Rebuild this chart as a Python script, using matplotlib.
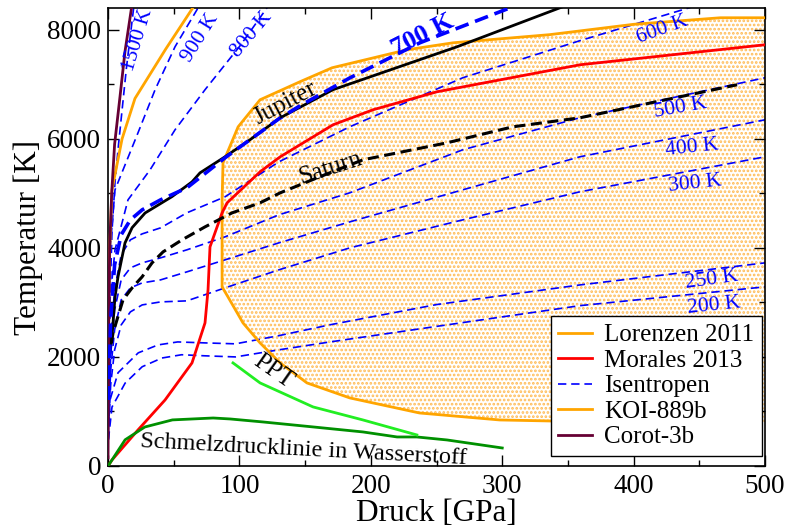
import matplotlib

matplotlib.use("Agg")
import matplotlib.pyplot as plt
from matplotlib.ticker import MultipleLocator

plt.rcParams["font.family"] = ["Liberation Serif", "DejaVu Serif"]
plt.rcParams["lines.scale_dashes"] = False
plt.rcParams["hatch.linewidth"] = 1.3
plt.rcParams["hatch.color"] = "#ffbb55"

# Lorenzen 2011 region (closed outline, P in GPa, T in K)
lor_p = [500, 466, 400, 336, 262.6, 227.5, 170.5, 146, 115.7, 99, 87.5, 86.8, 86.8,
         91.3, 102.7, 115.7, 131, 151.4, 184, 237, 298, 374, 500]
lor_t = [8220, 8220, 8100, 7910, 7761, 7633, 7303, 7046, 6716, 6220, 5560, 4880, 3284,
         3100, 2624, 2257, 1890, 1523, 1248, 972, 844, 807, 789]

# Morales 2013
mor_p = [0, 3, 22.8, 43.4, 63.9, 73.8, 76.1, 77.6, 86.8, 90.6, 115.7, 131, 171.2, 201.7, 250.4, 359.2, 500]
mor_t = [0, 110, 661, 1211, 1890, 2624, 3230, 4019, 4643, 4826, 5395, 5670, 6257, 6533, 6863, 7358, 7725]

# Planet profiles
jup_p = [1.5, 3, 5.3, 7.6, 12.9, 18.3, 28.2, 48.7, 63.9, 70, 89, 108, 131, 171, 265.6, 346, 365]
jup_t = [2100, 2370, 3100, 3470, 4090, 4370, 4640, 4940, 5210, 5376, 5670, 5982, 6385, 6899, 7688, 8422, 8650]
sat_p = [2.5, 3.8, 6.8, 11.4, 18.3, 25.9, 33.5, 41.9, 56.3, 73.8, 94.4, 115.7, 131, 161, 194, 258, 308, 359, 478.7]
sat_t = [2250, 2440, 2680, 3046, 3266, 3468, 3725, 3927, 4147, 4385, 4642, 4826, 5009, 5303, 5615, 5927, 6220, 6385, 6991]

koi_p = [0.3, 1, 3, 10.7, 20.5, 44, 65, 72]
koi_t = [2500, 3800, 5064, 6000, 6740, 7650, 8420, 8650]
corot_p = [0, 0.5, 1.2, 2.8, 5, 9.1, 12.9, 18, 20]
corot_t = [150, 2500, 4000, 5010, 5900, 6771, 7600, 8423, 8700]

# Isentropes
isen_p = [0.3, 2, 5, 10, 17, 26, 40, 60, 89, 130, 184, 270, 359, 500]
isen_200_p = [0.3, 3, 13, 26, 41, 56, 74, 97, 130, 169, 250, 359, 500]
isen_200_t = [480, 1080, 1520, 1820, 1980, 2040, 2020, 2000, 2130, 2275, 2560, 2940, 3285]
isen_250_p = [0.3, 1.5, 7.6, 23, 38, 53, 74, 97, 130, 169, 250, 359, 500]
isen_250_t = [500, 1210, 1710, 2075, 2220, 2275, 2257, 2240, 2390, 2590, 2960, 3320, 3725]
isen_300_t = [661, 1486, 2129, 2587, 2826, 2954, 3009, 3028, 3266, 3597, 4000, 4514, 5028, 5670]
isen_400_t = [752, 1762, 2496, 3046, 3266, 3358, 3413, 3560, 3780, 4092, 4477, 5065, 5670, 6349]
isen_500_t = [844, 2037, 2863, 3413, 3633, 3725, 3817, 3964, 4202, 4606, 5010, 5799, 6386, 7120]
isen_600_p = [0.3, 2, 5, 10, 17, 26, 40, 60, 89, 130, 184, 270, 359, 445, 470]
isen_600_t = [1028, 2312, 3230, 3872, 4147, 4257, 4367, 4643, 4936, 5578, 6221, 7120, 7799, 8423, 8700]
isen_700_p = [0.3, 2, 5, 10, 17, 26, 40, 60, 89, 130, 146.1, 184.2, 237.4, 308.2, 330]
isen_700_t = [1211, 2679, 3688, 4239, 4514, 4698, 4881, 5101, 5652, 6367, 6606, 7120, 7762, 8423, 8700]
isen_800_p = [0.3, 1.5, 5.3, 15.2, 32, 51, 73.8, 100.5, 121, 130]
isen_800_t = [1500, 3046, 3963, 4881, 5432, 6166, 6900, 7707, 8404, 8700]
isen_900_p = [0.3, 1.5, 5.3, 22.8, 35.8, 51, 67.7, 72]
isen_900_t = [1800, 3964, 5065, 6110, 6900, 7689, 8368, 8600]
isen_1500_p = [0.3, 1.5, 3, 5.3, 8, 11, 14, 17.5, 20]
isen_1500_t = [1000, 3000, 4300, 5200, 5900, 6600, 7300, 8000, 8500]

# Melting line and plasma phase transition
melt_p = [0, 3, 13, 28, 49, 80, 93, 118, 156, 194, 220, 235, 258, 300]
melt_t = [0, 110, 480, 715, 845, 880, 862, 807, 716, 624, 532, 532, 477, 330]
ppt_p = [95.1, 115.7, 156, 194, 235]
ppt_t = [1890, 1523, 1083, 844, 569]

ORANGE = "#ffa500"
BLUE = "#0000ff"

fig = plt.figure(figsize=(7.88, 5.30), dpi=100)
ax = fig.add_axes([0.1371, 0.1208, 0.8338, 0.8642])

ax.fill(lor_p, lor_t, facecolor="white", edgecolor="#ffbb55", hatch="....", linewidth=0, zorder=1)
ax.plot(lor_p[:-1], lor_t[:-1], color=ORANGE, lw=2.0, zorder=3)

thin = dict(color=BLUE, lw=1.2, dashes=(6, 3.5), zorder=2)
ax.plot(isen_200_p, isen_200_t, **thin)
ax.plot(isen_250_p, isen_250_t, **thin)
ax.plot(isen_p, isen_300_t, **thin)
ax.plot(isen_p, isen_400_t, **thin)
ax.plot(isen_p, isen_500_t, **thin)
ax.plot(isen_600_p, isen_600_t, **thin)
ax.plot(isen_800_p, isen_800_t, **thin)
ax.plot(isen_900_p, isen_900_t, **thin)
ax.plot(isen_1500_p, isen_1500_t, **thin)

ax.plot(mor_p, mor_t, color="#ff0000", lw=2.0, zorder=4)
ax.plot(jup_p, jup_t, color="black", lw=2.0, zorder=4)
ax.plot(isen_700_p, isen_700_t, color=BLUE, lw=2.6, dashes=(10, 5), zorder=5)
ax.plot(sat_p, sat_t, color="black", lw=2.2, dashes=(8, 4), zorder=4)
ax.plot(koi_p, koi_t, color=ORANGE, lw=2.0, zorder=4)
ax.plot(corot_p, corot_t, color="#660033", lw=2.0, zorder=4)
ax.plot(melt_p, melt_t, color="#009000", lw=2.0, zorder=4)
ax.plot(ppt_p, ppt_t, color="#22ee22", lw=2.0, zorder=4)

# curve labels
lab = dict(color=BLUE, fontsize=15.5, ha="center", va="center", zorder=6)
ax.text(22.8, 7817, "1500 K", rotation=73, **lab)
ax.text(70, 7854, "900 K", rotation=58, **lab)
ax.text(109.6, 7909, "800 K", rotation=50, **lab)
ax.text(239.7, 7909, "700 K", rotation=27, color=BLUE, fontsize=19, fontweight="bold",
        ha="center", va="center", zorder=6)
ax.text(421.6, 8001, "600 K", rotation=20, **lab)
ax.text(435.3, 6569, "500 K", rotation=10, **lab)
ax.text(444.4, 5835, "400 K", rotation=6, **lab)
ax.text(446.7, 5175, "300 K", rotation=6, **lab)
ax.text(459.7, 3413, "250 K", rotation=8, **lab)
ax.text(461.2, 2936, "200 K", rotation=6, **lab)
ax.text(134.7, 6661, "Jupiter", rotation=28, fontsize=18, ha="center", va="center", zorder=6)
ax.text(169, 5468, "Saturn", rotation=18, fontsize=18, ha="center", va="center", zorder=6)
ax.text(125.6, 1725, "PPT", rotation=-35, fontsize=18, ha="center", va="center", zorder=6)
ax.text(149, 294, "Schmelzdrucklinie in Wasserstoff", rotation=-3, fontsize=17.5,
        ha="center", va="center", zorder=6)

ax.set_xlim(0, 500)
ax.set_ylim(0, 8400)
ax.xaxis.set_major_locator(MultipleLocator(100))
ax.xaxis.set_minor_locator(MultipleLocator(50))
ax.yaxis.set_major_locator(MultipleLocator(2000))
ax.yaxis.set_minor_locator(MultipleLocator(1000))
ax.tick_params(which="both", direction="in", top=True, right=True, labelsize=19.5, width=1.0)
ax.tick_params(axis="x", pad=6)
ax.tick_params(axis="y", pad=5)
ax.tick_params(which="major", length=8)
ax.tick_params(which="minor", length=4)
for spine in ax.spines.values():
    spine.set_linewidth(1.2)
ax.set_xlabel("Druck [GPa]", fontsize=22.5, labelpad=0)
ax.set_ylabel("Temperatur [K]", fontsize=22.5, labelpad=3)

handles = [
    plt.Line2D([], [], color=ORANGE, lw=2.0),
    plt.Line2D([], [], color="#ff0000", lw=2.0),
    plt.Line2D([], [], color=BLUE, lw=1.2, dashes=(6, 3.5)),
    plt.Line2D([], [], color=ORANGE, lw=2.0),
    plt.Line2D([], [], color="#660033", lw=2.0),
]
names = ["Lorenzen 2011", "Morales 2013", "Isentropen", "KOI-889b", "Corot-3b"]
leg = ax.legend(handles, names, loc="lower right", bbox_to_anchor=(0.9954, 0.0218),
                borderaxespad=0, fontsize=18, fancybox=False, framealpha=1,
                edgecolor="black", handlelength=1.35, handletextpad=0.5,
                labelspacing=0.12, borderpad=0.3)
leg.get_frame().set_linewidth(1.0)
leg.set_zorder(10)

fig.savefig("out.png", dpi=100)
